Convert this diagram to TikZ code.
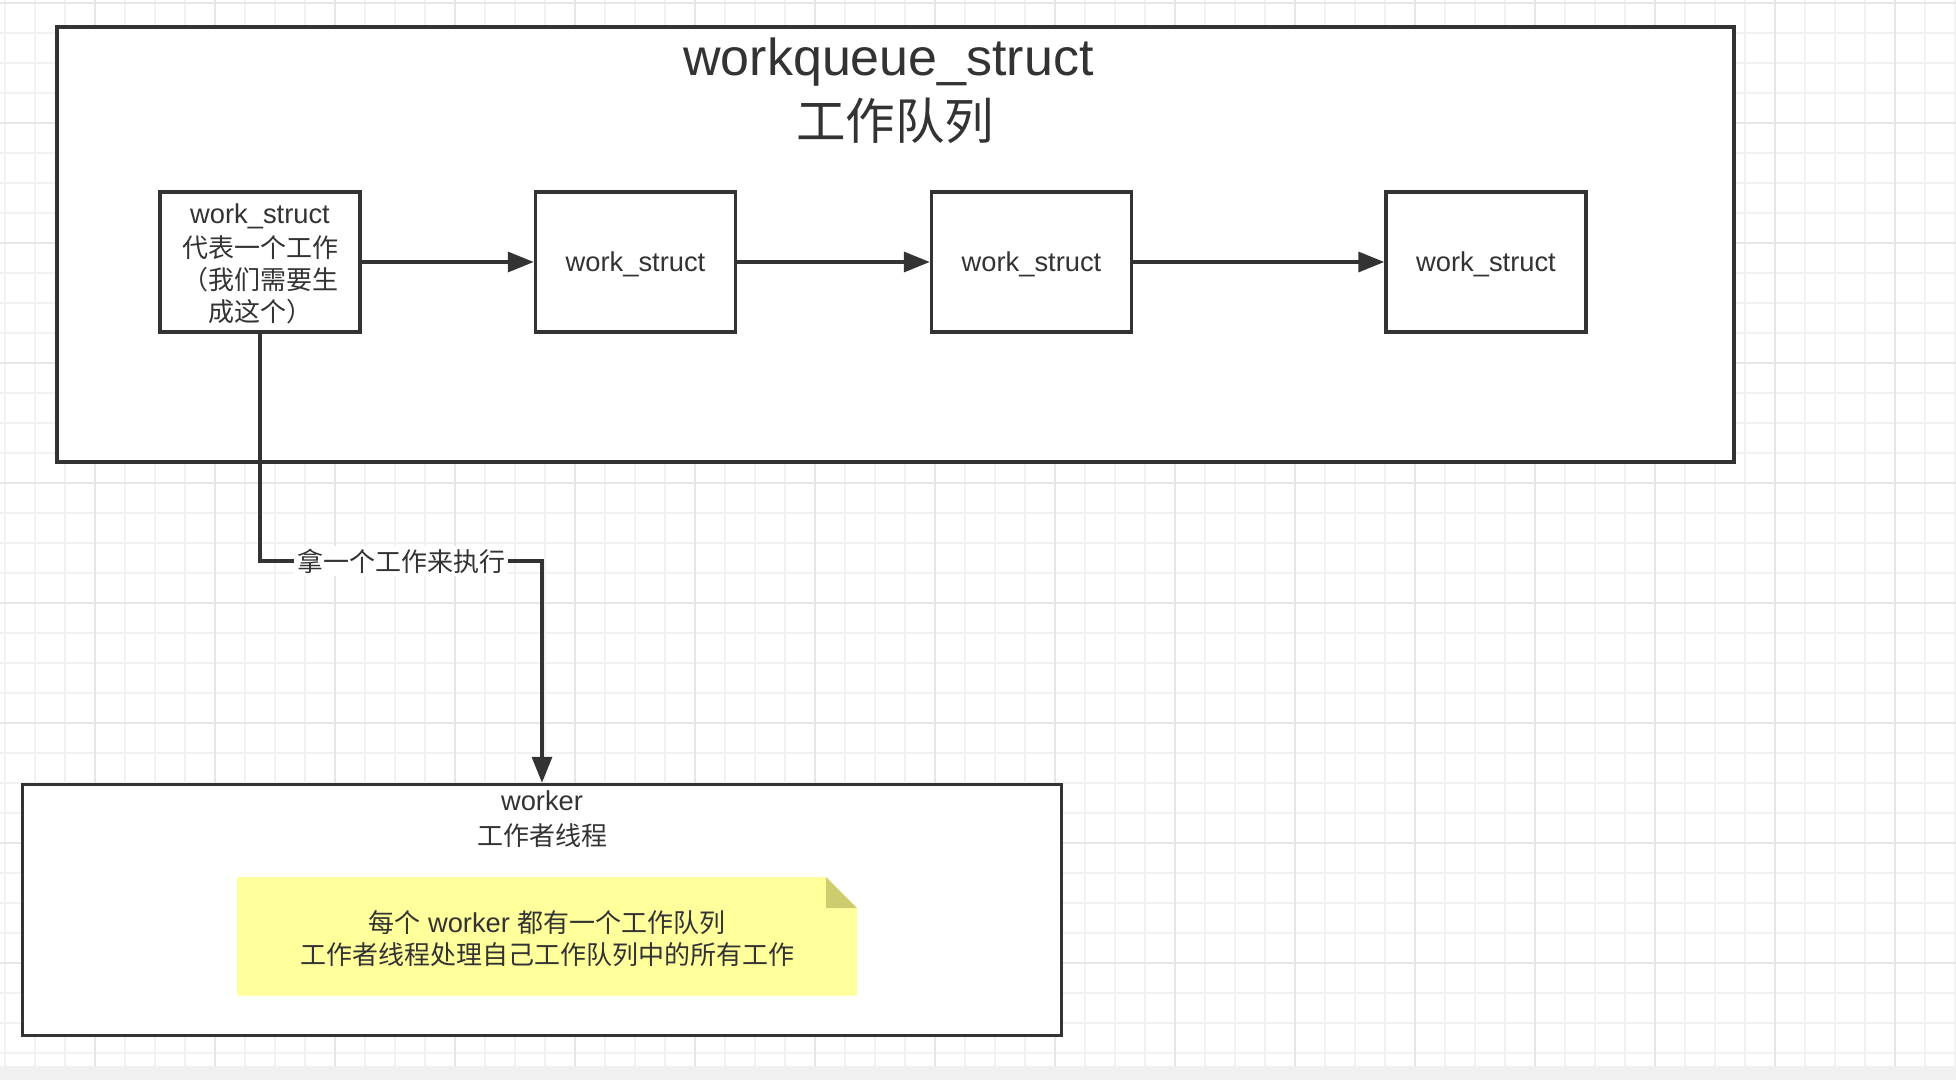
\documentclass[tikz,border=0pt]{standalone}
\usepackage{fontspec}
\setmainfont{Liberation Sans}[Scale=1.05]
\newfontfamily\cjk{Noto Sans CJK SC}
\usetikzlibrary{arrows.meta,calc}
\definecolor{ink}{HTML}{333333}
\definecolor{gridminor}{HTML}{F2F2F2}
\definecolor{gridmajor}{HTML}{E6E6E6}
\definecolor{bandgray}{HTML}{F0F0F0}
\definecolor{notefill}{HTML}{FFFF9C}
\definecolor{notefold}{HTML}{CDCC6E}
\newcommand\wqnorm{\fontsize{26}{32}\selectfont}
\newcommand\wqtitle{\fontsize{49.5}{64}\selectfont}
\begin{document}
\begin{tikzpicture}[x=1pt,y=-1pt,
  gridmin/.style={draw=gridminor, line width=1.5pt},
  gridmaj/.style={draw=gridmajor, line width=1.5pt},
  frame/.style={draw=ink, line width=3.5pt, fill=white, inner sep=0pt},
  wsbox/.style={frame, minimum width=200pt, minimum height=140pt, text=ink, align=center, font=\wqnorm},
  wsone/.style={wsbox, text height=25pt, text depth=6pt},
  conn/.style={draw=ink, line width=3.5pt, -{Triangle[length=26pt,width=20pt]}},
  txt/.style={text=ink, align=center, inner sep=0pt, font=\wqnorm},
  lbl/.style={fill=white, text=ink, inner sep=3pt, font=\wqnorm},
]
\useasboundingbox (0,0) rectangle (1956,1080);
% background grid
\fill[white] (0,0) rectangle (1956,1066);
\foreach \x in {5,35,...,1955} \draw[gridmin] (\x,0) -- (\x,1066);
\foreach \y in {3,33,...,1063} \draw[gridmin] (0,\y) -- (1956,\y);
\foreach \x in {95,215,...,1955} \draw[gridmaj] (\x,0) -- (\x,1066);
\foreach \y in {3,123,...,1063} \draw[gridmaj] (0,\y) -- (1956,\y);
\fill[bandgray] (0,1066) rectangle (1956,1080);

% workqueue container
\node[frame, minimum width=1677pt, minimum height=435pt] (wq) at (895.5,244.5) {};
\node[text=ink, align=center, inner sep=0pt, font=\wqtitle] (title) at (895,91)
  {workqueue\_struct\hspace*{13pt}\\{\cjk 工作队列}};

% work_struct boxes
\node[wsbox] (b1) at (260,262) {\rule{0pt}{24pt}work\_struct\\[2pt]{\cjk 代表一个工作}\\{\cjk （我们需要生}\\{\cjk 成这个）}};
\node[wsone] (b2) at (635.5,262) {work\_struct};
\node[wsone] (b3) at (1031.5,262) {work\_struct};
\node[wsone] (b4) at (1486,262) {work\_struct};

\draw[conn] (b1) -- (b2);
\draw[conn] (b2) -- (b3);
\draw[conn] (b3) -- (b4);

% worker box
\node[frame, minimum width=1039pt, minimum height=251pt] (wk) at (542,910) {};
\node[txt, anchor=north] (wktext) at (542,790.5) {worker\\[3pt]{\cjk 工作者线程}};

% note shape with folded corner
\fill[notefill] (237,877) -- (826,877) -- (857,908) -- (857,995.5) -- (237,995.5) -- cycle;
\fill[notefold] (826,877) -- (857,908) -- (826,908) -- cycle;
\node[txt] (note) at (547,939)
  {{\cjk 每个} worker {\cjk 都有一个工作队列}\\{\cjk 工作者线程处理自己工作队列中的所有工作}};

% connector from first work_struct to worker
\coordinate (bend) at (400,561);
\draw[conn] (b1.south) -- (b1.south |- bend) -- node[lbl] {\cjk 拿一个工作来执行} (wk.north |- bend) -- (wk.north);
\end{tikzpicture}
\end{document}
